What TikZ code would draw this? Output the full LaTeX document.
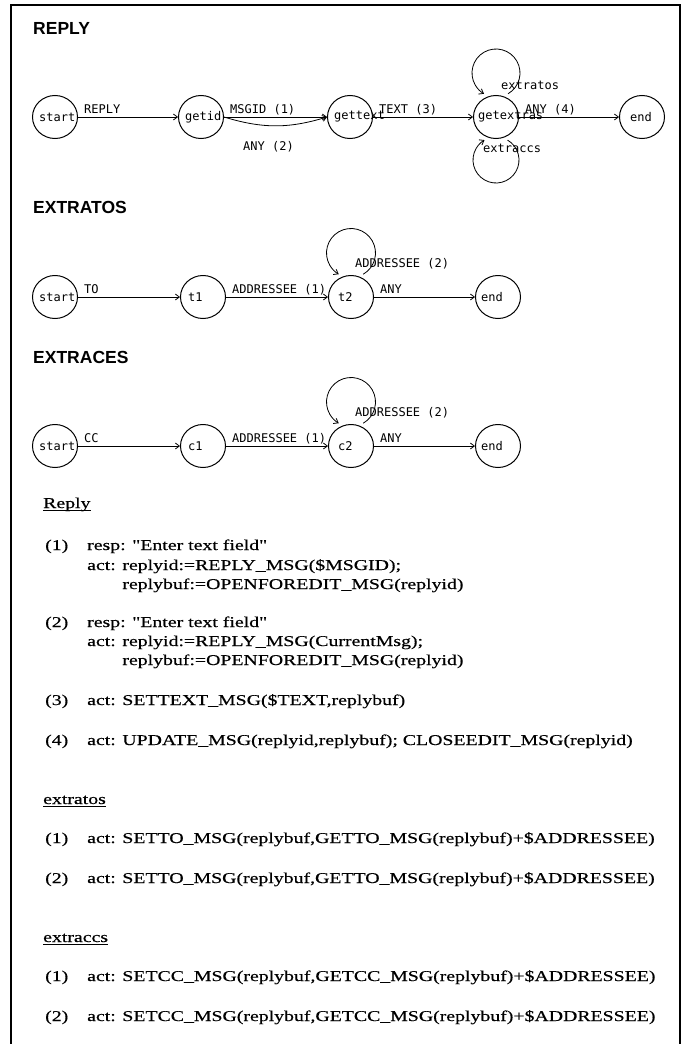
\documentclass[tikz,border=0pt]{standalone}
\usepackage{fontspec}
\setmainfont{Liberation Serif}[FakeStretch=1.32, Ligatures=TeXOff, FakeBold=0.4]
\newfontfamily\monofont{DejaVu Sans Mono}
\newfontfamily\headfont{Liberation Sans}
\usetikzlibrary{arrows.meta,shapes.geometric}
\begin{document}
\begin{tikzpicture}[x=1pt,y=1pt,
  state/.style={draw, ellipse, minimum width=45pt, minimum height=43pt, inner sep=0pt, line width=1pt},
  stxt/.style={anchor=west, inner sep=0pt, font=\monofont\fontsize{12}{12}\selectfont},
  lbl/.style={anchor=base west, inner sep=0pt, font=\monofont\fontsize{12}{12}\selectfont},
  ttl/.style={anchor=base west, inner sep=0pt, font=\headfont\bfseries\fontsize{17.5}{18}\selectfont},
  arr/.style={-{Straight Barb[length=4pt,width=6pt]}, line width=0.8pt},
  body/.style={anchor=base west, inner sep=0pt, font=\fontsize{15}{19}\selectfont},
  frame/.style={line width=1.6pt}
]
\fill[white] (0,0) rectangle (686,-1044);
\useasboundingbox (0,0) rectangle (686,-1044);
\draw[frame] (11,-1044) -- (11,-5) -- (680,-5) -- (680,-1044);

% ---------- REPLY ----------
\node[ttl] (t-reply) at (33,-34) {REPLY};
\node[state] (r-start) at (55,-117) {};
\node[state] (r-getid) at (201,-117) {};
\node[state] (r-gettext) at (350,-117) {};
\node[state] (r-getextras) at (496,-117) {};
\node[state] (r-end) at (642,-117) {};
\node[stxt] (r-start-t) at ([xshift=-16pt]r-start.center) {start};
\node[stxt] (r-getid-t) at ([xshift=-16pt]r-getid.center) {getid};
\node[stxt] (r-gettext-t) at ([xshift=-16pt]r-gettext.center) {gettext};
\node[stxt] (r-getextras-t) at ([xshift=-18pt]r-getextras.center) {getextras};
\node[stxt] (r-end-t) at ([xshift=-12pt]r-end.center) {end};
\draw[arr] (r-start.east) -- (r-getid.west);
\draw[arr] (r-getid.east) -- (r-gettext.west);
\draw[arr] (r-getid.east) to[bend right=17] (r-gettext.west);
\draw[arr] (r-gettext.east) -- (r-getextras.west);
\draw[arr] (r-getextras.east) -- (r-end.west);
\coordinate (r-loopT) at ([yshift=44pt]r-getextras.center);
\coordinate (r-loopB) at ([yshift=-43pt]r-getextras.center);
\draw[arr] ([shift={(-60:24pt)}]r-loopT) arc[start angle=-60, end angle=240, radius=24pt];
\draw[arr] ([shift={(60:23pt)}]r-loopB) arc[start angle=60, end angle=-240, radius=23pt];
\node[lbl] (l-reply) at ([xshift=6pt,yshift=4pt]r-start.east) {REPLY};
\node[lbl] (l-msgid) at ([xshift=6pt,yshift=4pt]r-getid.east) {MSGID (1)};
\node[lbl] (l-any2) at (243,-150) {ANY (2)};
\node[lbl] (l-text) at ([xshift=6pt,yshift=4pt]r-gettext.east) {TEXT (3)};
\node[lbl] (l-any4) at ([xshift=6pt,yshift=4pt]r-getextras.east) {ANY (4)};
\node[lbl] (l-extratos) at (501,-89) {extratos};
\node[lbl] (l-extraccs) at (483,-152) {extraccs};

% ---------- EXTRATOS ----------
\node[ttl] (t-extratos) at (33,-213) {EXTRATOS};
\node[state] (a-start) at (55,-297) {};
\node[state] (a-t1) at (203,-297) {};
\node[state] (a-t2) at (351,-297) {};
\node[state] (a-end) at (498,-297) {};
\node[stxt] (a-start-t) at ([xshift=-16pt]a-start.center) {start};
\node[stxt] (a-t1-t) at ([xshift=-15pt]a-t1.center) {t1};
\node[stxt] (a-t2-t) at ([xshift=-13pt]a-t2.center) {t2};
\node[stxt] (a-end-t) at ([xshift=-17pt]a-end.center) {end};
\draw[arr] (a-start.east) -- (a-t1.west);
\draw[arr] (a-t1.east) -- (a-t2.west);
\draw[arr] (a-t2.east) -- (a-end.west);
\coordinate (a-loop) at ([yshift=44pt]a-t2.center);
\draw[arr] ([shift={(-60:24.5pt)}]a-loop) arc[start angle=-60, end angle=240, radius=24.5pt];
\node[lbl] (l-to) at ([xshift=6pt,yshift=4pt]a-start.east) {TO};
\node[lbl] (l-addr1a) at ([xshift=6pt,yshift=4pt]a-t1.east) {ADDRESSEE (1)};
\node[lbl] (l-anya) at ([xshift=6pt,yshift=4pt]a-t2.east) {ANY};
\node[lbl] (l-addr2a) at (355,-267) {ADDRESSEE (2)};

% ---------- EXTRACES ----------
\node[ttl] (t-extraces) at (33,-363) {EXTRACES};
\node[state] (b-start) at (55,-446) {};
\node[state] (b-c1) at (203,-446) {};
\node[state] (b-c2) at (351,-446) {};
\node[state] (b-end) at (498,-446) {};
\node[stxt] (b-start-t) at ([xshift=-16pt]b-start.center) {start};
\node[stxt] (b-c1-t) at ([xshift=-15pt]b-c1.center) {c1};
\node[stxt] (b-c2-t) at ([xshift=-13pt]b-c2.center) {c2};
\node[stxt] (b-end-t) at ([xshift=-17pt]b-end.center) {end};
\draw[arr] (b-start.east) -- (b-c1.west);
\draw[arr] (b-c1.east) -- (b-c2.west);
\draw[arr] (b-c2.east) -- (b-end.west);
\coordinate (b-loop) at ([yshift=44pt]b-c2.center);
\draw[arr] ([shift={(-60:24.5pt)}]b-loop) arc[start angle=-60, end angle=240, radius=24.5pt];
\node[lbl] (l-cc) at ([xshift=6pt,yshift=4pt]b-start.east) {CC};
\node[lbl] (l-addr1b) at ([xshift=6pt,yshift=4pt]b-c1.east) {ADDRESSEE (1)};
\node[lbl] (l-anyb) at ([xshift=6pt,yshift=4pt]b-c2.east) {ANY};
\node[lbl] (l-addr2b) at (355,-416) {ADDRESSEE (2)};

% ---------- text ----------
\node[body] (h-reply) at (43,-508) {Reply};
\draw[line width=0.8pt] ([yshift=-2.5pt]h-reply.base west) -- ([yshift=-2.5pt]h-reply.base east);

\node[body] (n1) at (45,-550) {(1)};
\node[body] (n1a) at (87,-550) {resp: "Enter text field"};
\node[body] (n1b) at (87,-570) {act: replyid:=REPLY\_MSG(\$MSGID);};
\node[body] (n1c) at (87,-589) {\hphantom{act: }replybuf:=OPENFOREDIT\_MSG(replyid)};

\node[body] (n2) at (45,-627) {(2)};
\node[body] (n2a) at (87,-627) {resp: "Enter text field"};
\node[body] (n2b) at (87,-646) {act: replyid:=REPLY\_MSG(CurrentMsg);};
\node[body] (n2c) at (87,-665) {\hphantom{act: }replybuf:=OPENFOREDIT\_MSG(replyid)};

\node[body] (n3) at (45,-705) {(3)};
\node[body] (n3a) at (87,-705) {act: SETTEXT\_MSG(\$TEXT,replybuf)};

\node[body] (n4) at (45,-745) {(4)};
\node[body] (n4a) at (87,-745) {act: UPDATE\_MSG(replyid,replybuf); CLOSEEDIT\_MSG(replyid)};

\node[body] (h-extratos) at (43,-804) {extratos};
\draw[line width=0.8pt] ([yshift=-2.5pt]h-extratos.base west) -- ([yshift=-2.5pt]h-extratos.base east);
\node[body] (e1) at (45,-843) {(1)};
\node[body] (e1a) at (87,-843) {act: SETTO\_MSG(replybuf,GETTO\_MSG(replybuf)+\$ADDRESSEE)};
\node[body] (e2) at (45,-883) {(2)};
\node[body] (e2a) at (87,-883) {act: SETTO\_MSG(replybuf,GETTO\_MSG(replybuf)+\$ADDRESSEE)};

\node[body] (h-extraccs) at (43,-942) {extraccs};
\draw[line width=0.8pt] ([yshift=-2.5pt]h-extraccs.base west) -- ([yshift=-2.5pt]h-extraccs.base east);
\node[body] (c1) at (45,-981) {(1)};
\node[body] (c1a) at (87,-981) {act: SETCC\_MSG(replybuf,GETCC\_MSG(replybuf)+\$ADDRESSEE)};
\node[body] (c2) at (45,-1021) {(2)};
\node[body] (c2a) at (87,-1021) {act: SETCC\_MSG(replybuf,GETCC\_MSG(replybuf)+\$ADDRESSEE)};
\end{tikzpicture}
\end{document}
